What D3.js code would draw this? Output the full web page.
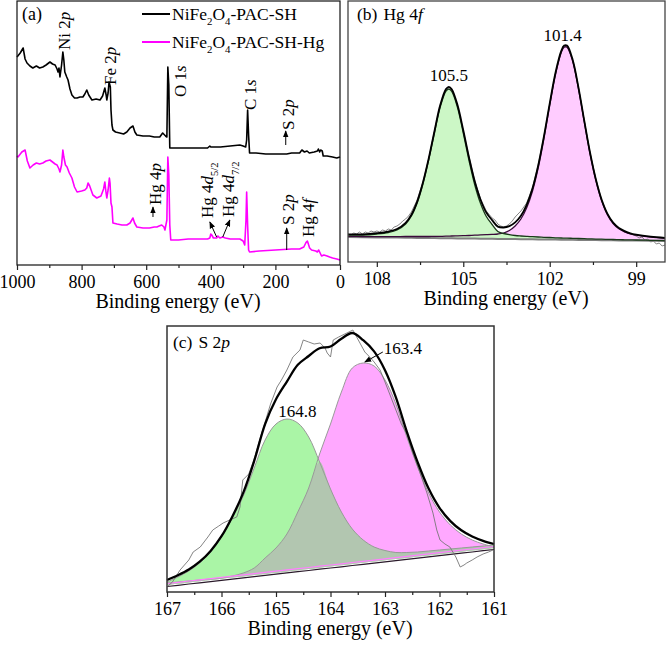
<!DOCTYPE html>
<html><head><meta charset="utf-8">
<script src="https://cdn.jsdelivr.net/npm/d3@7"></script>
<style>
body{margin:0;background:#fff}
text{font-family:"Liberation Serif","Times New Roman",serif;fill:#000}
</style>
</head><body>
<svg id="chart" width="666" height="645"></svg>
<script>
// ---------------- DATA ----------------
// Panel (a): XPS survey spectra (binding energy eV, intensity a.u.)
const surveyEnergyBlack = [1000,990,981,975,969,960,951,940,930,920,910,898,890,882,876,873,870,867,862,858,855,852,846,842,836,830,822,814,805,796,790,784,778,768,755,743,735,728,724,722,718,715,711,709,706,703,695,682,670,660,650,641,635,629,610,590,575,558,549,540,536,533,530,527,500,470,440,410,403,400,370,340,310,300,292,289,286,283,280,260,230,200,165,150,125,118,110,102,95,80,70,67,63,60,55,52,40,23,10,0];
const surveyIntensityBlack = [208,212,217,206,202,199,197,199,197,198,200,203,201,200,196,193,197,188,200,213,205,193,188,185,176,170,167,167,168,168,171,175,170,165,166,165,169,177,170,165,172,183,178,155,140,135,133,132,131,133,137,139,133,130,129,129,128,128,132,129,128,198,180,117,117,117,117,117,119,118,118,119,120,119,118,125,155,130,112,112,111,111,111,112,112,115,113,114,112,113,114,116,113,115,114,109,109,108,107,108];
const surveyEnergyHg = [1000,997,985,975,968,960,950,940,930,920,910,898,890,882,876,870,867,862,858,855,850,845,838,830,822,814,800,790,784,780,775,765,753,740,732,728,725,722,718,714,712,709,706,703,690,675,660,650,641,636,629,610,590,575,567,560,552,545,542,536,533,530,527,524,500,470,440,410,403,400,397,392,382,378,372,363,355,340,320,310,300,295,291,289,286,283,280,250,200,150,125,112,106,104,101,98,94,88,75,70,66,63,57,50,40,32,23,10,0];
const surveyIntensityHg = [109,108,113,115,104,97,100,102,101,102,104,105,103,101,100,96,93,100,115,108,100,98,92,87,78,73,74,75,77,82,79,70,67,69,76,83,74,67,75,87,82,62,58,42,41,40,40,42,47,42,38,37,37,38,38,39,40,38,35,45,108,90,40,25,25,26,26,26,27,31,30,27,27,29,27,28,27,26,26,26,24,20,45,73,40,15,13,14,15,16,16,18,22,23,24,21,17,15,14,13,15,13,9,10,9,8,7,6,5];
const seriesNames = ["NiFe2O4-PAC-SH", "NiFe2O4-PAC-SH-Hg"];
const surveyTicks = [1000,800,600,400,200,0];
const surveyMinorTicks = [900,700,500,300,100];
// peak assignments (label text, energy, intensity at label foot)
const surveyLabelText = [
  [{t:"Ni 2"},{t:"p",i:1}], [{t:"Fe 2"},{t:"p",i:1}], [{t:"O 1"},{t:"s",i:1}],
  [{t:"C 1"},{t:"s",i:1}], [{t:"S 2"},{t:"p",i:1}],
  [{t:"Hg 4"},{t:"p",i:1}], [{t:"Hg 4"},{t:"d",i:1},{t:"5/2",sub:1}],
  [{t:"Hg 4"},{t:"d",i:1},{t:"7/2",sub:1}], [{t:"S 2"},{t:"p",i:1}], [{t:"Hg 4"},{t:"f",i:1}]
];
const surveyLabelEnergy = [855,712,496,280,162,573,412,348,162,100];
const surveyLabelIntensity = [215,180,168,155,135,60,47,48,40,28];
// arrows: [E0, I0, E1, I1]
const surveyArrows = [[168,120,168,134],[579,48,579,58],[382,28,403,43],[363,28,341,45],[165,15,165,37]];

// Panel (b): Hg 4f high-resolution
const energyB = [109,108.5,108,107.6,107.3,107,106.8,106.6,106.4,106.2,106,105.8,105.6,105.5,105.4,105.2,105,104.8,104.6,104.4,104.2,104,103.8,103.6,103.4,103.2,103,102.8,102.6,102.4,102.2,102,101.8,101.6,101.5,101.4,101.2,101,100.8,100.6,100.4,100.2,100,99.8,99.6,99.4,99.2,99,98.5,98];
const baselineB = [25.0,24.8,24.6,24.5,24.4,24.3,24.2,24.1,24.1,24.0,23.9,23.8,23.8,23.7,23.7,23.6,23.5,23.5,23.4,23.3,23.3,23.2,23.1,23.0,23.0,22.9,22.8,22.7,22.7,22.6,22.5,22.5,22.4,22.3,22.3,22.2,22.2,22.1,22.0,21.9,21.9,21.8,21.7,21.7,21.6,21.5,21.4,21.4,21.2,21.0];
const peak1055B = [27,27,28,29.5,32,38,46,59,78,102,129,155,171,173,170.5,154.5,129,101.5,77,58.5,45.5,37.5,30.5,28.5,27.3,26.5,26,25.6,25.3,25,24.7,24.5,24.2,24,23.9,23.8,23.7,23.5,23.3,23.1,22.9,22.8,22.6,22.5,22.4,22.2,22.1,22,21.7,21.5];
const peak1014B = [25.6,25.5,25.4,25.4,25.4,25.5,25.5,25.5,25.5,25.5,25.7,25.7,25.8,25.9,26,26.1,26.3,26.5,26.8,27.1,27.3,27.6,28,29,31.5,36,43,54.3,70.8,94.1,123.6,156.6,187.5,209.4,214.8,214.8,200.3,172.7,139.8,108,81.7,61.4,47.4,38.5,33.2,30.2,28,26.8,24.9,23.7];
const envelopeB = [27.6,27.7,28.8,30.4,33,39.2,47.3,60.4,79.4,103.5,130.8,156.9,173,175.2,172.8,157,131.8,104.5,80.4,62.3,49.5,41.9,35.4,34.5,35.8,39.6,46.2,57.2,73.4,96.5,125.8,158.6,189.3,211.1,216.4,216.4,201.8,174.1,141.1,109.2,82.7,62.4,48.3,39.3,34,30.9,28.7,27.4,25.4,24.2];
const rawEnergyB = [109,108.9,108.8,108.7,108.6,108.5,108.4,108.3,108.2,108.1,108,107.9,107.8,107.7,107.6,107.5,107.4,107.3,107.2,107.1,107,106.9,106.8,106.6,106.4,106.2,106,105.8,105.6,105.5,105.4,105.2,105,104.8,104.6,104.4,104.2,104,103.9,103.8,103.7,103.6,103.5,103.4,103.3,103.2,103.1,103,102.9,102.8,102.6,102.4,102.2,102,101.8,101.6,101.5,101.4,101.2,101,100.8,100.6,100.4,100.2,100,99.8,99.6,99.4,99.2,99.1,99,98.9,98.8,98.7,98.6,98.5,98.4,98.3,98.2,98.1,98];
const rawIntensityB = [28,27,29,28,30,28,30,29,31,30,31,30,32,31,33,32,35,36,38,41,43,46,50,62,80,103,131,156,173,175,172,157,131,105,81,63,51,44,42,38,36,35,36,38,41,45,48,51,55,59,74,97,126,158,189,210,216,216,202,174,141,109,83,62,48,39,34,30,28,27,26,24,25,22,23,20,21,18,19,16,17];
const ticksB = [108,105,102,99];
const minorTicksB = [106.5,103.5,100.5];
const peakLabelsB = ["105.5","101.4"];
const peakLabelEnergyB = [105.5,101.55];
const peakLabelIntensityB = [181,221];

// Panel (c): S 2p high-resolution
const energyC = [167,166.8,166.6,166.4,166.2,166,165.8,165.6,165.4,165.2,165,164.8,164.6,164.4,164.2,164,163.8,163.6,163.4,163.2,163,162.8,162.6,162.4,162.2,162,161.8,161.6,161.4,161.2,161];
const baselineC = [7.0,8.2,9.5,10.7,11.9,13.2,14.4,15.6,16.9,18.1,19.3,20.6,21.8,23.0,24.3,25.5,26.7,28.0,29.2,30.4,31.7,32.9,34.1,35.4,36.6,37.8,39.1,40.3,41.5,42.8,44.0];
const peak1648C = [10,15,21,29,40,55,74,96,124,152,168,173,169,155,130,103,80,63,52,45,41.5,39.5,39.5,40,41,42,43,44,45,46,47];
const peak1634C = [9,10,11,12,13,14,16,19,24,34,44,58,80,104,138,168,200,224,229,226,212,188,155,125,99,80,67,58,52,48,45];
const envelopeC = [12,16.8,22.5,30.3,41.1,55.8,75.6,99.4,131.1,167.9,192.7,210.4,227.2,236,243.7,245.5,253.3,259,251.8,240.6,221.8,194.6,160.4,129.6,103.4,84.2,70.9,61.7,55.5,51.2,48];
const rawEnergyC = [167,166.9,166.76,166.6,166.52,166.39,166.25,166.16,166.05,165.97,165.85,165.72,165.66,165.61,165.5,165.4,165.3,165.2,165.1,164.98,164.9,164.8,164.69,164.56,164.5,164.4,164.3,164.19,164.1,164.06,164,163.95,163.85,163.7,163.59,163.52,163.46,163.37,163.28,163.2,163.09,163,162.85,162.7,162.6,162.49,162.35,162.23,162.12,162.05,161.99,161.9,161.81,161.7,161.62,161.55,161.5,161.4,161.31,161.2,161.1,161.02];
const rawIntensityC = [5,10,22,32,40,45,55,62,66,69,72,75,85,112,118,133,152,170,188,205,212,222,235,242,252,250,248,249,244,239,235,252,255,259,262,255,249,240,235,230,222,210,189,168,158,139,118,99,79,62,52,48,45,35,25,27,29,32,35,38,40,42];
const ticksC = [167,166,165,164,163,162,161];
const minorTicksC = [166.5,165.5,164.5,163.5,162.5,161.5];
const peakLabelsC = ["164.8","163.4"];
const peakLabelEnergyC = [164.61,162.67];
const peakLabelIntensityC = [175,238];
const arrowC = [163.04,240,163.37,230];

// ---------------- DRAWING ----------------
const svg = d3.select("#chart");
const defs = svg.append("defs");
defs.append("marker").attr("id","arr").attr("viewBox","0 0 10 10")
  .attr("refX",9).attr("refY",5).attr("markerWidth",7).attr("markerHeight",7)
  .attr("orient","auto-start-reverse").attr("markerUnits","userSpaceOnUse")
  .append("path").attr("d","M0,1 L10,5 L0,9 Z").attr("fill","#000");

function rich(t, segs, size){
  let shift = 0;
  segs.forEach(s=>{
    const sp = t.append("tspan").text(s.t);
    let dy = 0;
    if(s.sub){ dy = size*0.3 - shift; shift = size*0.3; sp.attr("font-size", size*0.62); }
    else { dy = -shift; shift = 0; }
    if(dy) sp.attr("dy", dy);
    if(s.i) sp.attr("font-style","italic");
  });
}

function bottomAxis(g, scale, y, major, minor, fmt, size){
  const a = g.append("g").attr("transform",`translate(0,${y})`)
    .call(d3.axisBottom(scale).tickValues(major).tickSize(5).tickPadding(5).tickFormat(fmt));
  a.select(".domain").remove();
  a.selectAll("text").attr("font-size",size).attr("font-family",'"Liberation Serif",serif');
  a.selectAll("line").attr("stroke","#222").attr("stroke-width",1.2);
  const m = g.append("g").attr("transform",`translate(0,${y})`)
    .call(d3.axisBottom(scale).tickValues(minor).tickSize(3).tickFormat(""));
  m.select(".domain").remove();
  m.selectAll("line").attr("stroke","#222").attr("stroke-width",1.2);
}

// ===== Panel (a) =====
const gA = svg.append("g");
const xA = d3.scaleLinear().domain([1000,0]).range([17,340]);
const yA = d3.scaleLinear().domain([0,264]).range([265,1]);
const lineA = d3.line().x(d=>xA(d[0])).y(d=>yA(d[1]));
gA.append("path").datum(d3.zip(surveyEnergyBlack, surveyIntensityBlack))
  .attr("d",lineA).attr("fill","none").attr("stroke","#000").attr("stroke-width",1.6).attr("stroke-linejoin","round");
gA.append("path").datum(d3.zip(surveyEnergyHg, surveyIntensityHg))
  .attr("d",lineA).attr("fill","none").attr("stroke","#ff00ff").attr("stroke-width",1.6).attr("stroke-linejoin","round");
gA.append("rect").attr("x",17).attr("y",1).attr("width",323).attr("height",264)
  .attr("fill","none").attr("stroke","#111").attr("stroke-width",1.2);
bottomAxis(gA, xA, 265, surveyTicks, surveyMinorTicks, d3.format("d"), 18);
gA.append("text").attr("x",178).attr("y",308).attr("text-anchor","middle").attr("font-size",20).text("Binding energy (eV)");
gA.append("text").attr("x",22).attr("y",20).attr("font-size",18).text("(a)");
// annotations
surveyLabelText.forEach((segs,i)=>{
  const x = xA(surveyLabelEnergy[i]), y = yA(surveyLabelIntensity[i]);
  const t = gA.append("text").attr("transform",`translate(${x},${y}) rotate(-90)`)
    .attr("dy","0.35em").attr("font-size",17);
  rich(t, segs, 17);
});
surveyArrows.forEach(a=>{
  gA.append("line").attr("x1",xA(a[0])).attr("y1",yA(a[1])).attr("x2",xA(a[2])).attr("y2",yA(a[3]))
    .attr("stroke","#000").attr("stroke-width",1).attr("marker-end","url(#arr)");
});
// legend
const legendColors = ["#000","#ff00ff"];
const legendSegs = [
  [{t:"NiFe"},{t:"2",sub:1},{t:"O"},{t:"4",sub:1},{t:"-PAC-SH"}],
  [{t:"NiFe"},{t:"2",sub:1},{t:"O"},{t:"4",sub:1},{t:"-PAC-SH-Hg"}]
];
seriesNames.forEach((n,i)=>{
  const yy = 14 + i*28;
  gA.append("line").attr("x1",142).attr("x2",170).attr("y1",yy).attr("y2",yy)
    .attr("stroke",legendColors[i]).attr("stroke-width",2);
  const t = gA.append("text").attr("x",172).attr("y",yy+6).attr("font-size",17.5);
  rich(t, legendSegs[i], 17.5);
});

// ===== Panel (b) =====
const gB = svg.append("g");
const xB = d3.scaleLinear().domain([109,98]).range([348,665]);
const yB = d3.scaleLinear().domain([0,261]).range([262,1]);
const ptsB = energyB.map((e,i)=>({e, b:baselineB[i], g:peak1055B[i], p:peak1014B[i], s:envelopeB[i]}));
const cr = d3.curveCatmullRom.alpha(0.5);
gB.append("path").datum(ptsB).attr("fill","#ffccff")
  .attr("d", d3.area().curve(cr).x(d=>xB(d.e)).y0(d=>yB(d.b)).y1(d=>yB(d.p)));
gB.append("path").datum(ptsB).attr("fill","#ccf7c6")
  .attr("d", d3.area().curve(cr).x(d=>xB(d.e)).y0(d=>yB(d.b)).y1(d=>yB(d.g)));
gB.append("path").datum(d3.zip(rawEnergyB, rawIntensityB)).attr("fill","none").attr("stroke","#777").attr("stroke-width",0.9)
  .attr("d", d3.line().x(d=>xB(d[0])).y(d=>yB(d[1])));
gB.append("path").datum(ptsB).attr("fill","none").attr("stroke","#808080").attr("stroke-width",2)
  .attr("d", d3.line().x(d=>xB(d.e)).y(d=>yB(d.b)));
gB.append("path").datum(ptsB).attr("fill","none").attr("stroke","#3a0a3a").attr("stroke-width",1.3)
  .attr("d", d3.line().curve(cr).x(d=>xB(d.e)).y(d=>yB(d.p)));
gB.append("path").datum(ptsB).attr("fill","none").attr("stroke","#1a3a1a").attr("stroke-width",1.3)
  .attr("d", d3.line().curve(cr).x(d=>xB(d.e)).y(d=>yB(d.g)));
gB.append("path").datum(ptsB).attr("fill","none").attr("stroke","#000").attr("stroke-width",1.8)
  .attr("d", d3.line().curve(cr).x(d=>xB(d.e)).y(d=>yB(d.s)));
gB.append("rect").attr("x",348).attr("y",1).attr("width",317).attr("height",261)
  .attr("fill","none").attr("stroke","#444").attr("stroke-width",1.3);
bottomAxis(gB, xB, 262, ticksB, minorTicksB, d3.format("d"), 18);
gB.append("text").attr("x",506).attr("y",305).attr("text-anchor","middle").attr("font-size",20).text("Binding energy (eV)");
{
  const t = gB.append("text").attr("x",357).attr("y",20).attr("font-size",17.5);
  t.append("tspan").text("(b)");
  t.append("tspan").attr("dx",6).text("Hg 4");
  t.append("tspan").attr("font-style","italic").text("f");
}
peakLabelsB.forEach((s,i)=>{
  gB.append("text").attr("x",xB(peakLabelEnergyB[i])).attr("y",yB(peakLabelIntensityB[i]))
    .attr("text-anchor","middle").attr("font-size",17).text(s);
});

// ===== Panel (c) =====
const gC = svg.append("g");
const xC = d3.scaleLinear().domain([167,161]).range([167,494]);
const yC = d3.scaleLinear().domain([0,266]).range([592,326]);
const ptsC = energyC.map((e,i)=>({e, b:baselineC[i], g:peak1648C[i], p:peak1634C[i], s:envelopeC[i]}));
gC.append("path").datum(ptsC).attr("fill","#ffa8ff")
  .attr("d", d3.area().curve(cr).x(d=>xC(d.e)).y0(d=>yC(d.b)).y1(d=>yC(d.p)));
gC.append("path").datum(ptsC).attr("fill","#aaf5a6")
  .attr("d", d3.area().curve(cr).x(d=>xC(d.e)).y0(d=>yC(d.b)).y1(d=>yC(d.g)));
gC.append("path").datum(ptsC).attr("fill","#b2c6b0")
  .attr("d", d3.area().curve(cr).x(d=>xC(d.e)).y0(d=>yC(d.b)).y1(d=>yC(Math.min(d.g,d.p))));
gC.append("path").datum(ptsC).attr("fill","none").attr("stroke","#999").attr("stroke-width",1)
  .attr("d", d3.line().curve(cr).x(d=>xC(d.e)).y(d=>yC(d.g)));
gC.append("path").datum(ptsC).attr("fill","none").attr("stroke","#999").attr("stroke-width",1)
  .attr("d", d3.line().curve(cr).x(d=>xC(d.e)).y(d=>yC(d.p)));
gC.append("path").datum(ptsC).attr("fill","none").attr("stroke","#ff80ff").attr("stroke-width",1.2)
  .attr("transform","translate(0,-1.5)")
  .attr("d", d3.line().x(d=>xC(d.e)).y(d=>yC(d.b)));
gC.append("path").datum(ptsC).attr("fill","none").attr("stroke","#2a1a2a").attr("stroke-width",1.2)
  .attr("transform","translate(0,1.5)")
  .attr("d", d3.line().x(d=>xC(d.e)).y(d=>yC(d.b)));
gC.append("path").datum(d3.zip(rawEnergyC, rawIntensityC)).attr("fill","none").attr("stroke","#777").attr("stroke-width",0.9)
  .attr("d", d3.line().x(d=>xC(d[0])).y(d=>yC(d[1])));
gC.append("path").datum(ptsC).attr("fill","none").attr("stroke","#000").attr("stroke-width",2.3)
  .attr("d", d3.line().curve(cr).x(d=>xC(d.e)).y(d=>yC(d.s)));
gC.append("rect").attr("x",167).attr("y",326).attr("width",327).attr("height",266)
  .attr("fill","none").attr("stroke","#333").attr("stroke-width",1.5);
bottomAxis(gC, xC, 592, ticksC, minorTicksC, d3.format("d"), 18);
gC.append("text").attr("x",330).attr("y",635).attr("text-anchor","middle").attr("font-size",20).text("Binding energy (eV)");
{
  const t = gC.append("text").attr("x",173).attr("y",348).attr("font-size",17.5);
  t.append("tspan").text("(c)");
  t.append("tspan").attr("dx",6).text("S 2");
  t.append("tspan").attr("font-style","italic").text("p");
}
peakLabelsC.forEach((s,i)=>{
  gC.append("text").attr("x",xC(peakLabelEnergyC[i])).attr("y",yC(peakLabelIntensityC[i]))
    .attr("text-anchor","middle").attr("font-size",17).text(s);
});
gC.append("line").attr("x1",xC(arrowC[0])).attr("y1",yC(arrowC[1])).attr("x2",xC(arrowC[2])).attr("y2",yC(arrowC[3]))
  .attr("stroke","#000").attr("stroke-width",1).attr("marker-end","url(#arr)");
</script>
</body></html>
